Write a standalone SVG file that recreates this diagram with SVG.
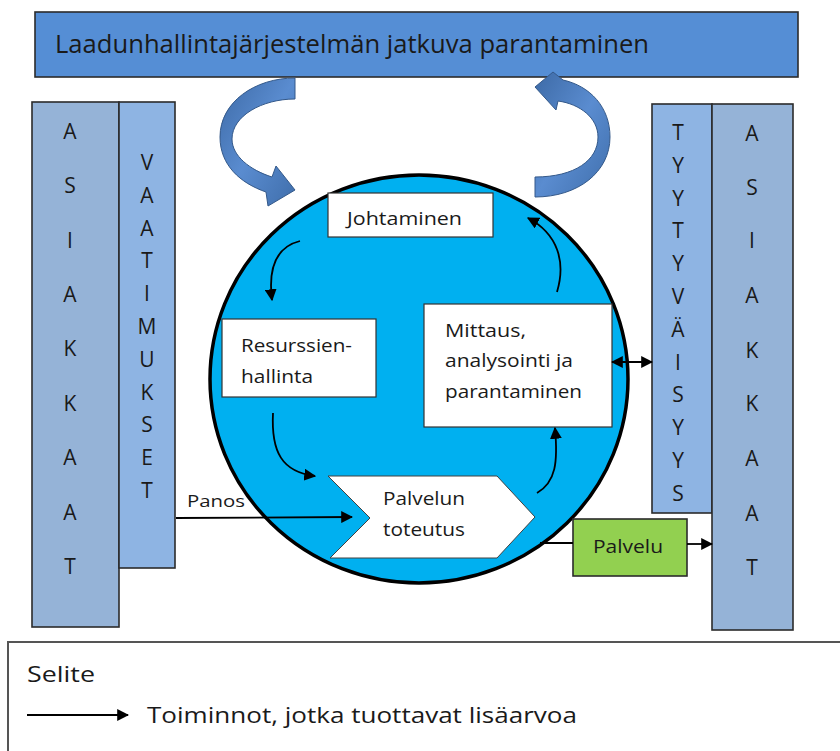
<svg xmlns="http://www.w3.org/2000/svg" width="840" height="751" viewBox="0 0 840 751">
<defs>
<style>
.t{font-family:"Open Sans","Liberation Sans",Arial,sans-serif;fill:#1a1a1a}
.col{font-family:"Open Sans","Liberation Sans",Arial,sans-serif;fill:#1a1a1a;font-size:21px;text-anchor:middle}
.bx{fill:#ffffff;stroke:#333333;stroke-width:1.2}
.colA{fill:#95B3D7;stroke:#2b2b2b;stroke-width:1.6}
.colB{fill:#8EB4E3;stroke:#2b2b2b;stroke-width:1.6}
.ln{fill:none;stroke:#000;stroke-width:1.8}
.big{fill:url(#bg);stroke:#34598a;stroke-width:1}
</style>
<linearGradient id="bg" x1="0" y1="0" x2="1" y2="1">
<stop offset="0" stop-color="#3d6aa6"/>
<stop offset="0.5" stop-color="#5a8cd0"/>
<stop offset="1" stop-color="#3f6eab"/>
</linearGradient>
<marker id="ah" viewBox="0 0 10 10" refX="9" refY="5" markerWidth="12" markerHeight="12" markerUnits="userSpaceOnUse" orient="auto">
<path d="M0,0 L10,5 L0,10 z" fill="#000"/>
</marker>
<marker id="as" viewBox="0 0 10 10" refX="9" refY="5" markerWidth="12" markerHeight="12" markerUnits="userSpaceOnUse" orient="auto-start-reverse">
<path d="M0,0 L10,5 L0,10 z" fill="#000"/>
</marker>
</defs>
<rect width="840" height="751" fill="#ffffff"/>

<g id="title">
<rect x="35" y="12" width="763" height="65" fill="#558ED5" stroke="#2b2b2b" stroke-width="1.6"/>
<text class="t" x="55" y="53" font-size="26" textLength="594" lengthAdjust="spacingAndGlyphs">Laadunhallintajärjestelmän jatkuva parantaminen</text>
</g>

<g id="asiakkaat-left">
<rect class="colA" x="32" y="102" width="87" height="525"/>
<text class="col" x="70" y="139">A</text>
<text class="col" x="70" y="193">S</text>
<text class="col" x="70" y="248">I</text>
<text class="col" x="70" y="302">A</text>
<text class="col" x="70" y="356">K</text>
<text class="col" x="70" y="411">K</text>
<text class="col" x="70" y="465">A</text>
<text class="col" x="70" y="520">A</text>
<text class="col" x="70" y="574">T</text>
</g>

<g id="vaatimukset">
<rect class="colB" x="119" y="102" width="56" height="466"/>
<text class="col" x="147" y="170">V</text>
<text class="col" x="147" y="203">A</text>
<text class="col" x="147" y="236">A</text>
<text class="col" x="147" y="268">T</text>
<text class="col" x="147" y="301">I</text>
<text class="col" x="147" y="334">M</text>
<text class="col" x="147" y="367">U</text>
<text class="col" x="147" y="400">K</text>
<text class="col" x="147" y="432">S</text>
<text class="col" x="147" y="465">E</text>
<text class="col" x="147" y="498">T</text>
</g>

<g id="tyytyvaisyys">
<rect class="colB" x="652" y="104" width="60" height="409"/>
<text class="col" x="678" y="140">T</text>
<text class="col" x="678" y="173">Y</text>
<text class="col" x="678" y="206">Y</text>
<text class="col" x="678" y="238">T</text>
<text class="col" x="678" y="271">Y</text>
<text class="col" x="678" y="304">V</text>
<text class="col" x="678" y="337">Ä</text>
<text class="col" x="678" y="370">I</text>
<text class="col" x="678" y="402">S</text>
<text class="col" x="678" y="435">Y</text>
<text class="col" x="678" y="468">Y</text>
<text class="col" x="678" y="501">S</text>
</g>

<g id="asiakkaat-right">
<rect class="colA" x="712" y="104" width="81" height="526"/>
<text class="col" x="752" y="141">A</text>
<text class="col" x="752" y="195">S</text>
<text class="col" x="752" y="248">I</text>
<text class="col" x="752" y="303">A</text>
<text class="col" x="752" y="358">K</text>
<text class="col" x="752" y="411">K</text>
<text class="col" x="752" y="466">A</text>
<text class="col" x="752" y="521">A</text>
<text class="col" x="752" y="575">T</text>
</g>

<g id="loop-arrow-left">
<path class="big" d="M295,78 C255,78 220,102 220,137 C220,165 240,183 266,192 L268,206 L295,190 L276,166 L272,177 C250,170 232,156 232,139 C232,116 262,99 295,99 Z"/>
</g>

<g id="process-circle">
<ellipse cx="419" cy="379" rx="209" ry="204" fill="#00B0F0" stroke="#000" stroke-width="3.5"/>
</g>

<g id="loop-arrow-right">
<path class="big" d="M535,197 C578,197 610,172 610,137 C610,107 590,86 563,80 L553,72 L535,87 L556,110 L558,101 C580,104 598,118 598,137 C598,160 575,177 535,177 Z"/>
</g>

<g id="johtaminen">
<rect class="bx" x="328" y="193" width="165" height="44"/>
<text class="t" x="347" y="225" font-size="18" textLength="115" lengthAdjust="spacingAndGlyphs">Johtaminen</text>
</g>

<g id="resurssienhallinta">
<rect class="bx" x="222" y="319" width="154" height="78"/>
<text class="t" x="241" y="352" font-size="18" textLength="111" lengthAdjust="spacingAndGlyphs">Resurssien-</text>
<text class="t" x="241" y="383" font-size="18" textLength="72" lengthAdjust="spacingAndGlyphs">hallinta</text>
</g>

<g id="mittaus">
<rect class="bx" x="424" y="304" width="188" height="123"/>
<text class="t" x="445" y="337" font-size="18" textLength="81" lengthAdjust="spacingAndGlyphs">Mittaus,</text>
<text class="t" x="445" y="367" font-size="18" textLength="128" lengthAdjust="spacingAndGlyphs">analysointi ja</text>
<text class="t" x="445" y="398" font-size="18" textLength="137" lengthAdjust="spacingAndGlyphs">parantaminen</text>
</g>

<g id="palvelun-toteutus">
<polygon points="328,476 497,476 535,517 497,558 330,558 370,518" fill="#ffffff" stroke="#404040" stroke-width="1"/>
<text class="t" x="383" y="505" font-size="18" textLength="82" lengthAdjust="spacingAndGlyphs">Palvelun</text>
<text class="t" x="383" y="536" font-size="18" textLength="82" lengthAdjust="spacingAndGlyphs">toteutus</text>
</g>

<g id="palvelu">
<rect x="573" y="519" width="114" height="57" fill="#92D050" stroke="#2b2b2b" stroke-width="1.6"/>
<text class="t" x="593" y="553" font-size="18" textLength="70" lengthAdjust="spacingAndGlyphs">Palvelu</text>
</g>

<g id="connectors">
<path class="ln" d="M300,241 C276,247 268,268 272,300" marker-end="url(#ah)"/>
<path class="ln" d="M273,413 C271,452 282,472 315,476" marker-end="url(#ah)"/>
<path class="ln" d="M537,493 C556,482 558,462 555,428" marker-end="url(#ah)"/>
<path class="ln" d="M557,292 C566,262 558,234 528,218" marker-end="url(#ah)"/>
<path class="ln" d="M176,518 L352,517" marker-end="url(#ah)"/>
<text class="t" x="187" y="507" font-size="17" textLength="58" lengthAdjust="spacingAndGlyphs">Panos</text>
<path class="ln" d="M540,543 L573,543"/>
<path class="ln" d="M687,544 L712,544" marker-end="url(#ah)"/>
<path class="ln" d="M612,362 L652,362" marker-start="url(#as)" marker-end="url(#ah)"/>
</g>

<g id="legend">
<rect x="8" y="642" width="850" height="130" fill="none" stroke="#555555" stroke-width="2"/>
<text class="t" x="27" y="682" font-size="22" textLength="68" lengthAdjust="spacingAndGlyphs">Selite</text>
<path class="ln" d="M27,715 L128,715" marker-end="url(#ah)"/>
<text class="t" x="147" y="723" font-size="22" textLength="430" lengthAdjust="spacingAndGlyphs">Toiminnot, jotka tuottavat lisäarvoa</text>
</g>
</svg>
